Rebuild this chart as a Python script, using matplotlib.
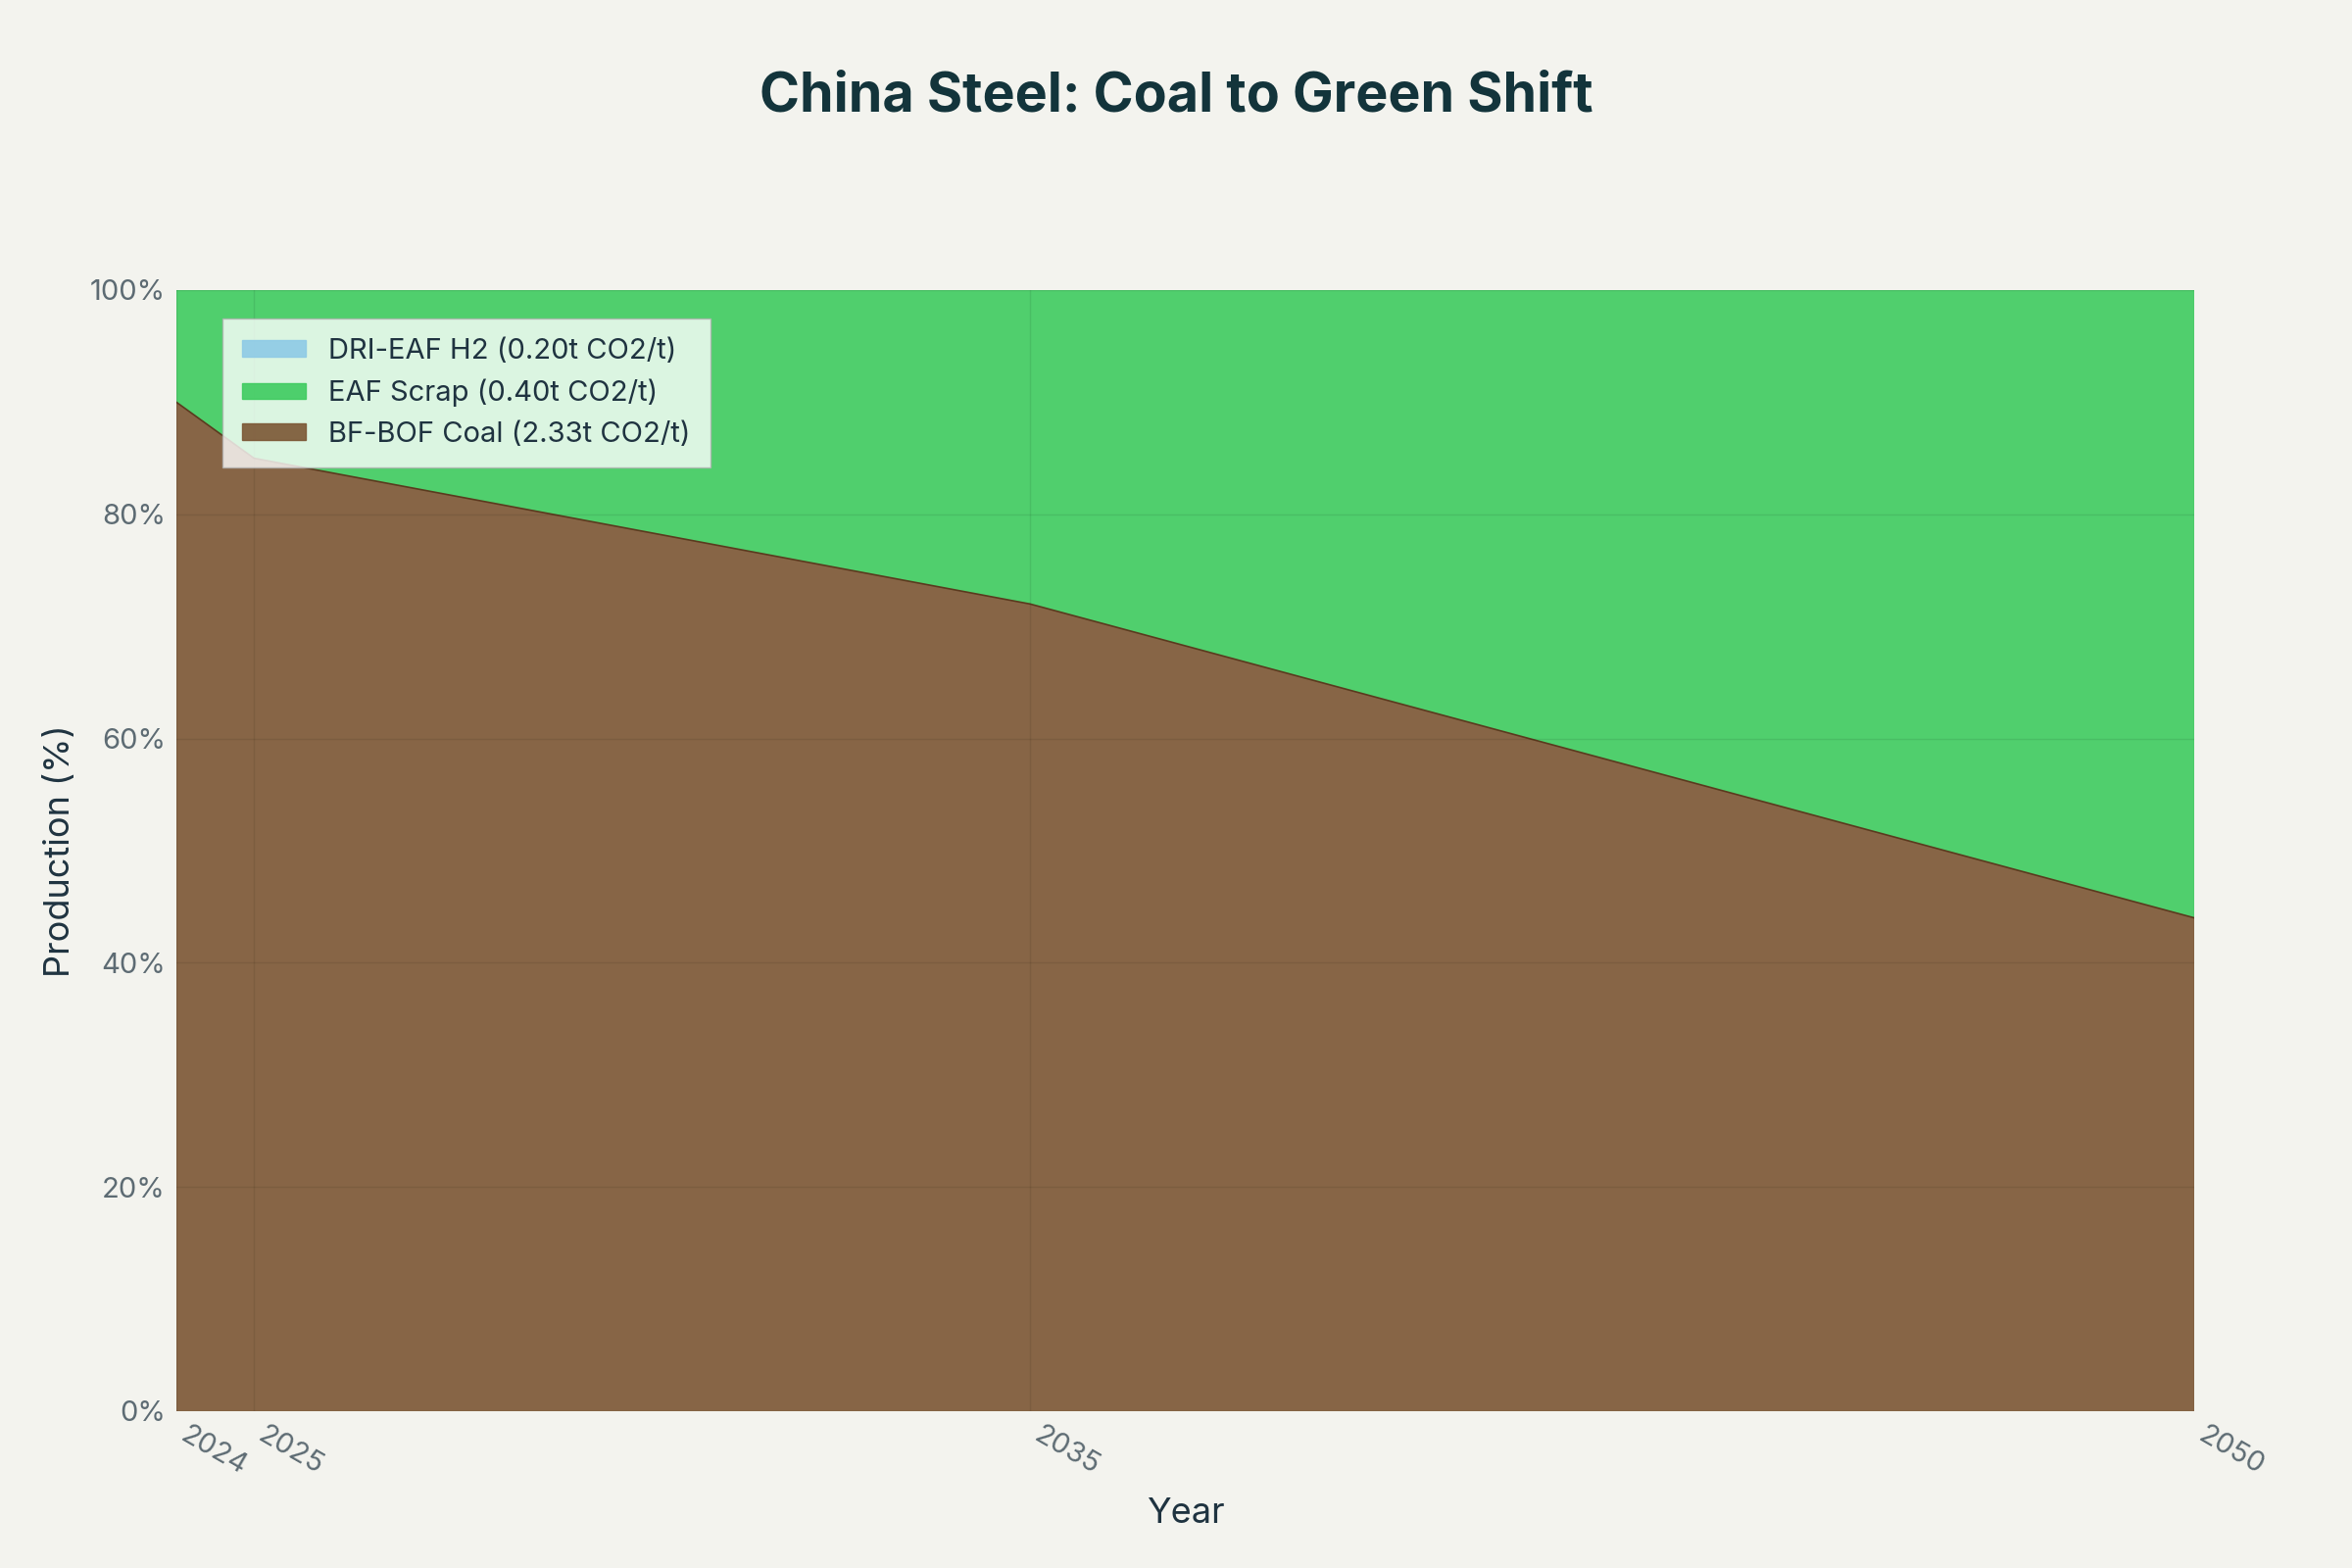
import matplotlib
matplotlib.use("agg")
import matplotlib.pyplot as plt
from matplotlib.patches import Patch
from matplotlib.ticker import PercentFormatter

plt.rcParams['font.family'] = ['Inter', 'DejaVu Sans']

years = [2024, 2025, 2035, 2050]
bf_bof = [90, 85, 72, 44]
eaf_scrap = [10, 15, 28, 56]
dri_h2 = [0, 0, 0, 0]

labels = ["BF-BOF Coal (2.33t CO2/t)", "EAF Scrap (0.40t CO2/t)", "DRI-EAF H2 (0.20t CO2/t)"]
colors = ["#7b5634", "#3ecb5f", "#8ecae6"]
bg = "#f3f3ee"

fig = plt.figure(figsize=(24, 16), dpi=100, facecolor=bg)
ax = fig.add_axes([0.075, 0.10, 0.858, 0.715], facecolor=bg)

ax.stackplot(years, bf_bof, eaf_scrap, dri_h2, colors=colors, alpha=0.9,
             edgecolor=None, linewidth=0)
ax.plot(years, bf_bof, color="#5a3a1e", linewidth=1.2)

ax.set_xlim(2024, 2050)
ax.set_ylim(0, 100)
ax.set_xticks(years)
ax.set_yticks(range(0, 101, 20))
ax.yaxis.set_major_formatter(PercentFormatter(decimals=0))
ax.tick_params(axis='both', labelsize=21, colors="#5d6b73", length=0, pad=8)
for t in ax.get_xticklabels():
    t.set_rotation(-30)
    t.set_ha('left')
    t.set_va('top')
ax.grid(True, color="#000000", alpha=0.08, linewidth=1)
ax.set_axisbelow(False)
for s in ax.spines.values():
    s.set_visible(False)

ax.set_xlabel("Year", fontsize=26, color="#1f3340", labelpad=12)
ax.set_ylabel("Production (%)", fontsize=26, color="#1f3340", labelpad=10)
fig.suptitle("China Steel: Coal to Green Shift", fontsize=40, fontweight='bold',
             color="#13343b", y=0.955)

handles = [Patch(facecolor=colors[i], edgecolor=colors[i], alpha=0.9) for i in (2, 1, 0)]
leg = ax.legend(handles, [labels[2], labels[1], labels[0]], loc='upper left',
                bbox_to_anchor=(0.02, 0.98), fontsize=21, frameon=True,
                handlelength=2.2, handleheight=0.5, labelcolor="#1f3340")
leg.get_frame().set_facecolor("#ffffff")
leg.get_frame().set_alpha(0.8)
leg.get_frame().set_edgecolor("#b0b0b0")
leg.get_frame().set_boxstyle('square')

fig.savefig("out.png", facecolor=bg)
